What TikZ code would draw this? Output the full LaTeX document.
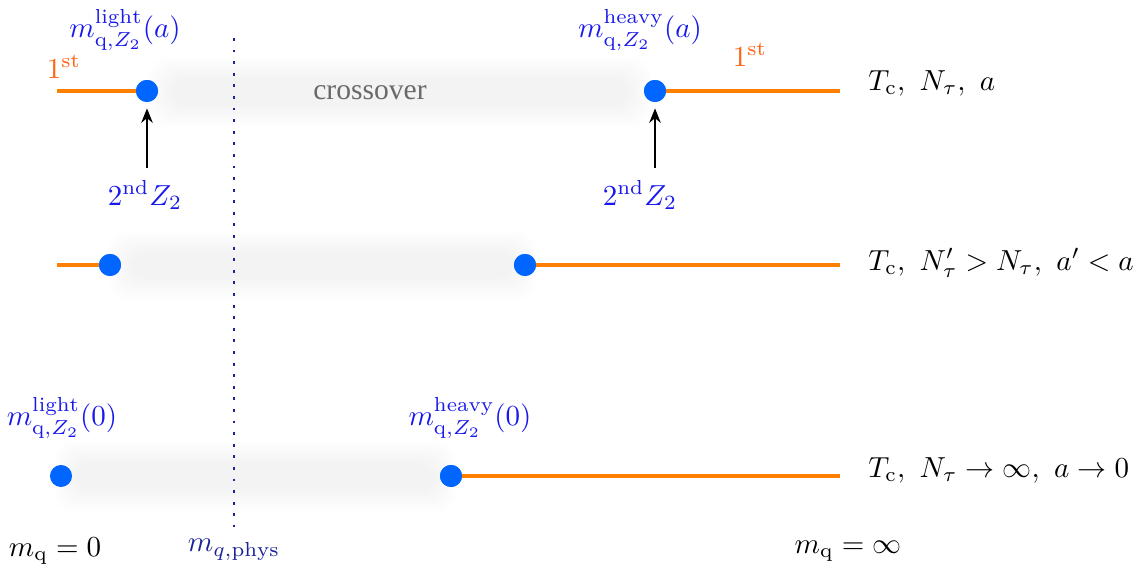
\documentclass[tikz,border=0pt]{standalone}
\usepackage{amsmath}
\usepackage{fontspec}
\newfontfamily\crossfont{Liberation Serif}
\usetikzlibrary{arrows.meta}
\definecolor{lineorange}{RGB}{255,128,0}
\definecolor{firstorange}{RGB}{255,100,20}
\definecolor{dotblue}{RGB}{0,102,255}
\definecolor{labblue}{RGB}{25,25,235}
\definecolor{physblue}{RGB}{25,35,150}
\definecolor{crossgray}{RGB}{105,105,105}
\tikzset{
  dot/.style={circle,fill=dotblue,inner sep=0pt,minimum size=7.6pt},
  firstline/.style={lineorange,line width=1.4pt},
  lab/.style={text=labblue,inner sep=1pt},
  firstlab/.style={text=firstorange,inner sep=1pt},
  plain/.style={inner sep=1pt,anchor=west},
  arr/.style={-{Stealth[length=5pt,width=4pt]},line width=0.65pt},
}
\newcommand{\band}[4]{%
  \foreach \k in {0,...,11}{
    \fill[black,opacity=0.0055,rounded corners=6pt]
      ({#1-6+\k*2},{#2-6+\k*2}) rectangle ({#3+6-\k*2},{#4+6-\k*2});
  }}
\begin{document}
\begin{tikzpicture}[x=0.345pt,y=-0.345pt]
\useasboundingbox (0,0) rectangle (1142,575);
% shaded crossover bands
\band{155}{63}{645}{121}
\band{115}{237}{530}{294}
\band{60}{447}{450}{506}
\node[text=crossgray,font=\crossfont\fontsize{10.2}{12}\selectfont] (cross) at (370,93) {crossover};
% dotted physical mass line
\coordinate (phystop) at (234,38);
\coordinate (physbot) at (234,527);
\draw[physblue,dash pattern=on 1pt off 3pt,line width=0.85pt] (phystop) -- (physbot);
\node[text=physblue,inner sep=1pt] (physlab) at (234,550) {$m_{q,\mathrm{phys}}$};
% row 1
\coordinate (r1l) at (57,91);
\coordinate (r1r) at (840,91);
\node[dot] (d1l) at (147,91) {};
\node[dot] (d1r) at (655,91) {};
\draw[firstline] (r1l) -- (d1l.center);
\draw[firstline] (d1r.center) -- (r1r);
\node[dot] at (147,91) {};
\node[dot] at (655,91) {};
\node[firstlab] (f1l) at (64,67) {$1^{\mathrm{st}}$};
\node[firstlab] (f1r) at (750,55) {$1^{\mathrm{st}}$};
\node[lab] (ml) at (125,30) {$m^{\mathrm{light}}_{\mathrm{q},Z_2}(a)$};
\node[lab] (mh) at (640,30) {$m^{\mathrm{heavy}}_{\mathrm{q},Z_2}(a)$};
\node[lab] (zl) at (145,195) {$2^{\mathrm{nd}}Z_2$};
\node[lab] (zr) at (640,195) {$2^{\mathrm{nd}}Z_2$};
\coordinate (al) at (147,168);
\coordinate (ar) at (655,168);
\draw[arr] (al) -- ([yshift=-2pt]d1l.south);
\draw[arr] (ar) -- ([yshift=-2pt]d1r.south);
\node[plain] (t1) at (865,83) {$T_{\mathrm{c}},\ N_\tau,\ a$};
% row 2
\coordinate (r2l) at (57,265);
\coordinate (r2r) at (840,265);
\node[dot] (d2l) at (110,265) {};
\node[dot] (d2r) at (525,265) {};
\draw[firstline] (r2l) -- (d2l.center);
\draw[firstline] (d2r.center) -- (r2r);
\node[dot] at (110,265) {};
\node[dot] at (525,265) {};
\node[plain] (t2) at (865,263) {$T_{\mathrm{c}},\ N'_\tau > N_\tau,\ a' < a$};
% row 3
\coordinate (r3r) at (840,476);
\node[dot] (d3l) at (61,476) {};
\node[dot] (d3r) at (451,476) {};
\draw[firstline] (d3r.center) -- (r3r);
\node[dot] at (451,476) {};
\node[lab] (ml0) at (62,418) {$m^{\mathrm{light}}_{\mathrm{q},Z_2}(0)$};
\node[lab] (mh0) at (470,418) {$m^{\mathrm{heavy}}_{\mathrm{q},Z_2}(0)$};
\node[plain] (t3) at (865,470) {$T_{\mathrm{c}},\ N_\tau \to \infty,\ a \to 0$};
% bottom axis labels
\node[inner sep=1pt] (mq0) at (55,551) {$m_{\mathrm{q}} = 0$};
\node[inner sep=1pt] (mqinf) at (848,551) {$m_{\mathrm{q}} = \infty$};
\end{tikzpicture}
\end{document}
